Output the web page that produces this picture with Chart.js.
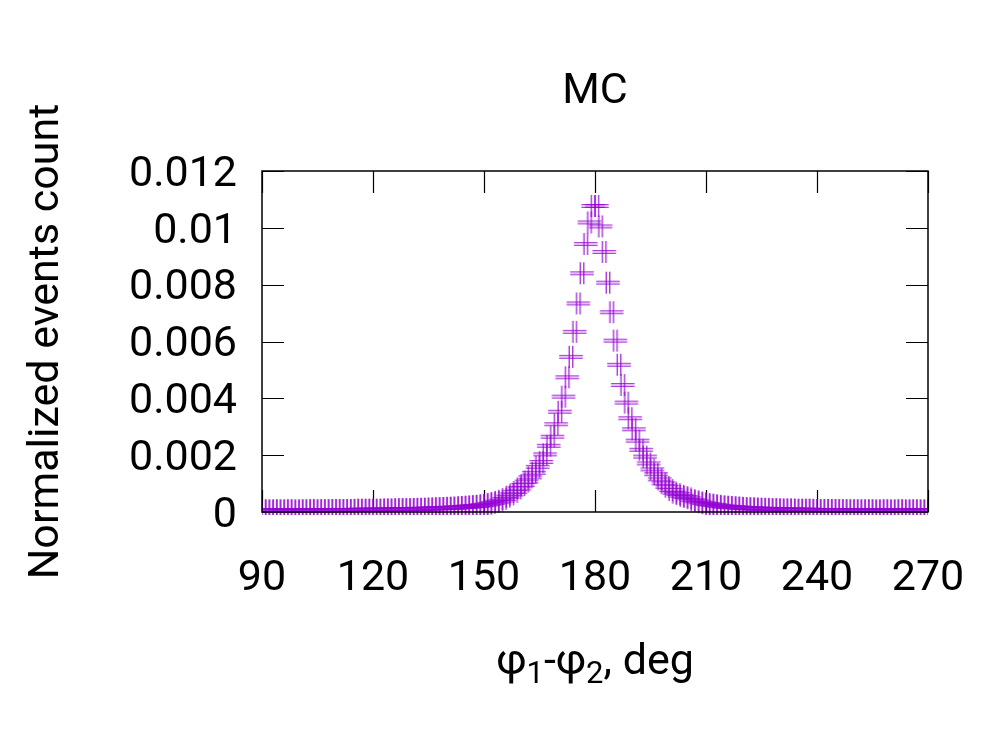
<!DOCTYPE html>
<html>
<head>
<meta charset="utf-8">
<title>MC</title>
<script src="https://cdn.jsdelivr.net/npm/chart.js@4.4.1/dist/chart.umd.min.js"></script>
<style>
  html, body { margin: 0; padding: 0; background: #ffffff; }
  #plot { display: block; }
</style>
</head>
<body>
<canvas id="plot" width="1000" height="750"></canvas>
<script>
// Bin centres, deg (1 deg bins from 90 to 270)
const binCentres = [
  90.5, 91.5, 92.5, 93.5, 94.5, 95.5, 96.5, 97.5, 98.5, 99.5,
  100.5, 101.5, 102.5, 103.5, 104.5, 105.5, 106.5, 107.5, 108.5, 109.5,
  110.5, 111.5, 112.5, 113.5, 114.5, 115.5, 116.5, 117.5, 118.5, 119.5,
  120.5, 121.5, 122.5, 123.5, 124.5, 125.5, 126.5, 127.5, 128.5, 129.5,
  130.5, 131.5, 132.5, 133.5, 134.5, 135.5, 136.5, 137.5, 138.5, 139.5,
  140.5, 141.5, 142.5, 143.5, 144.5, 145.5, 146.5, 147.5, 148.5, 149.5,
  150.5, 151.5, 152.5, 153.5, 154.5, 155.5, 156.5, 157.5, 158.5, 159.5,
  160.5, 161.5, 162.5, 163.5, 164.5, 165.5, 166.5, 167.5, 168.5, 169.5,
  170.5, 171.5, 172.5, 173.5, 174.5, 175.5, 176.5, 177.5, 178.5, 179.5,
  180.5, 181.5, 182.5, 183.5, 184.5, 185.5, 186.5, 187.5, 188.5, 189.5,
  190.5, 191.5, 192.5, 193.5, 194.5, 195.5, 196.5, 197.5, 198.5, 199.5,
  200.5, 201.5, 202.5, 203.5, 204.5, 205.5, 206.5, 207.5, 208.5, 209.5,
  210.5, 211.5, 212.5, 213.5, 214.5, 215.5, 216.5, 217.5, 218.5, 219.5,
  220.5, 221.5, 222.5, 223.5, 224.5, 225.5, 226.5, 227.5, 228.5, 229.5,
  230.5, 231.5, 232.5, 233.5, 234.5, 235.5, 236.5, 237.5, 238.5, 239.5,
  240.5, 241.5, 242.5, 243.5, 244.5, 245.5, 246.5, 247.5, 248.5, 249.5,
  250.5, 251.5, 252.5, 253.5, 254.5, 255.5, 256.5, 257.5, 258.5, 259.5,
  260.5, 261.5, 262.5, 263.5, 264.5, 265.5, 266.5, 267.5, 268.5, 269.5
];

// MC normalized counts, one per bin
const mcCounts = [
  0.00006, 0.00006, 0.00005, 0.00006, 0.00006, 0.00005, 0.00006, 0.00006, 0.00006, 0.00005,
  0.00006, 0.00006, 0.00006, 0.00007, 0.00006, 0.00006, 0.00007, 0.00006, 0.00007, 0.00007,
  0.00007, 0.00007, 0.00007, 0.00007, 0.00007, 0.00008, 0.00008, 0.00008, 0.00008, 0.00008,
  0.00008, 0.00008, 0.00009, 0.00009, 0.00009, 0.00009, 0.00010, 0.00010, 0.00010, 0.00010,
  0.00010, 0.00011, 0.00011, 0.00011, 0.00012, 0.00012, 0.00013, 0.00013, 0.00014, 0.00014,
  0.00015, 0.00015, 0.00016, 0.00017, 0.00018, 0.00019, 0.00020, 0.00021, 0.00022, 0.00024,
  0.00026, 0.00029, 0.00032, 0.00036, 0.00040, 0.00046, 0.00054, 0.00062, 0.00071, 0.00083,
  0.00095, 0.00107, 0.00122, 0.00138, 0.00159, 0.00176, 0.00203, 0.00233, 0.00265, 0.00309,
  0.00353, 0.00406, 0.00474, 0.00546, 0.00634, 0.00734, 0.00840, 0.00943, 0.01019, 0.01077,
  0.01077, 0.01005, 0.00915, 0.00807, 0.00703, 0.00603, 0.00518, 0.00447, 0.00385, 0.00330,
  0.00291, 0.00251, 0.00219, 0.00195, 0.00171, 0.00150, 0.00133, 0.00115, 0.00101, 0.00089,
  0.00077, 0.00068, 0.00063, 0.00057, 0.00053, 0.00048, 0.00042, 0.00038, 0.00034, 0.00031,
  0.00028, 0.00026, 0.00024, 0.00022, 0.00020, 0.00019, 0.00018, 0.00017, 0.00016, 0.00015,
  0.00014, 0.00013, 0.00013, 0.00012, 0.00012, 0.00011, 0.00011, 0.00010, 0.00010, 0.00010,
  0.00009, 0.00009, 0.00009, 0.00009, 0.00008, 0.00008, 0.00008, 0.00008, 0.00008, 0.00007,
  0.00007, 0.00007, 0.00007, 0.00007, 0.00007, 0.00007, 0.00006, 0.00007, 0.00006, 0.00006,
  0.00006, 0.00006, 0.00006, 0.00006, 0.00006, 0.00006, 0.00005, 0.00006, 0.00006, 0.00006,
  0.00005, 0.00006, 0.00006, 0.00006, 0.00005, 0.00006, 0.00006, 0.00006, 0.00005, 0.00006
];

// Axis ticks
const xTicks = [90, 120, 150, 180, 210, 240, 270];
const yTicks = [0, 0.002, 0.004, 0.006, 0.008, 0.01, 0.012];

// Texts
const titleText = 'MC';
const yTitleText = 'Normalized events count';

const FONT = 'Roboto, "DejaVu Sans", sans-serif';
const FONT_SIZE = 43;
const PURPLE = '#9400d3';

// gnuplot style "+" marker, drawn doubled
function makeCross(color) {
  const c = document.createElement('canvas');
  c.width = 28;
  c.height = 26;
  const g = c.getContext('2d');
  g.strokeStyle = color;
  g.lineWidth = 1.1;
  g.beginPath();
  g.moveTo(12.2, 2); g.lineTo(12.2, 24);
  g.moveTo(15.8, 2); g.lineTo(15.8, 24);
  g.moveTo(2.2, 11.8); g.lineTo(25.8, 11.8);
  g.moveTo(2.2, 14.2); g.lineTo(25.8, 14.2);
  g.stroke();
  return c;
}

// frame, inward ticks, titles (gnuplot look)
const gnuplotFrame = {
  id: 'gnuplotFrame',
  beforeDatasetsDraw(chart) {
    const { ctx, chartArea: a, scales } = chart;
    ctx.save();
    ctx.strokeStyle = '#000';
    ctx.lineWidth = 1.2;
    ctx.beginPath();
    xTicks.forEach(v => {
      const px = Math.round(scales.x.getPixelForValue(v)) + 0.5;
      ctx.moveTo(px, a.bottom); ctx.lineTo(px, a.bottom - 22);
      ctx.moveTo(px, a.top); ctx.lineTo(px, a.top + 22);
    });
    yTicks.forEach(v => {
      const py = Math.round(scales.y.getPixelForValue(v)) + 0.5;
      ctx.moveTo(a.left, py); ctx.lineTo(a.left + 22, py);
      ctx.moveTo(a.right, py); ctx.lineTo(a.right - 22, py);
    });
    ctx.stroke();
    ctx.restore();
  },
  afterDraw(chart) {
    const { ctx, chartArea: a } = chart;
    ctx.save();
    ctx.strokeStyle = '#000';
    ctx.lineWidth = 1.5;
    ctx.strokeRect(a.left, a.top, a.right - a.left, a.bottom - a.top);

    const cx = (a.left + a.right) / 2;
    ctx.fillStyle = '#000';

    // title
    ctx.font = FONT_SIZE + 'px ' + FONT;
    ctx.textAlign = 'center';
    ctx.textBaseline = 'middle';
    ctx.fillText(titleText, cx, 92);

    // y title
    ctx.save();
    ctx.translate(47, (a.top + a.bottom) / 2);
    ctx.rotate(-Math.PI / 2);
    ctx.fillText(yTitleText, 0, 0);
    ctx.restore();

    // x title with subscripts: φ1-φ2, deg
    const parts = [
      { t: 'φ', sub: false }, { t: '1', sub: true },
      { t: '-φ', sub: false }, { t: '2', sub: true },
      { t: ', deg', sub: false }
    ];
    const big = FONT_SIZE + 'px ' + FONT, small = '31px ' + FONT;
    let w = 0;
    parts.forEach(p => { ctx.font = p.sub ? small : big; w += ctx.measureText(p.t).width; });
    let x = cx - w / 2;
    const base = 674;
    ctx.textAlign = 'left';
    ctx.textBaseline = 'alphabetic';
    parts.forEach(p => {
      ctx.font = p.sub ? small : big;
      ctx.fillText(p.t, x, p.sub ? base + 9 : base);
      x += ctx.measureText(p.t).width;
    });
    ctx.restore();
  }
};

const points = binCentres.map((x, i) => ({ x, y: mcCounts[i] }));

new Chart(document.getElementById('plot'), {
  type: 'scatter',
  data: {
    datasets: [{
      label: 'MC',
      data: points,
      pointStyle: makeCross(PURPLE),
      pointRadius: 11,
      borderColor: PURPLE,
      backgroundColor: PURPLE,
      showLine: false,
      clip: { left: 0, right: 0, top: 0, bottom: 3 }
    }]
  },
  options: {
    responsive: false,
    animation: false,
    devicePixelRatio: 1,
    layout: { padding: { left: 0, right: 72, top: 171, bottom: 0 } },
    plugins: {
      legend: { display: false },
      tooltip: { enabled: false },
      title: { display: false }
    },
    scales: {
      x: {
        type: 'linear',
        min: 90,
        max: 270,
        afterFit: s => { s.height = 238; s.paddingLeft = 0; s.paddingRight = 0; },
        afterBuildTicks: s => { s.ticks = xTicks.map(v => ({ value: v })); },
        grid: { display: false, drawTicks: false },
        border: { display: false },
        ticks: {
          color: '#000',
          padding: 41,
          maxRotation: 0,
          font: { family: FONT, size: FONT_SIZE }
        }
      },
      y: {
        min: 0,
        max: 0.012,
        afterFit: s => { s.width = 262; s.paddingTop = 0; s.paddingBottom = 0; },
        afterBuildTicks: s => { s.ticks = yTicks.map(v => ({ value: v })); },
        grid: { display: false, drawTicks: false },
        border: { display: false },
        ticks: {
          color: '#000',
          padding: 25,
          labelOffset: 4,
          font: { family: FONT, size: FONT_SIZE },
          callback: v => String(Math.round(v * 1000) / 1000)
        }
      }
    }
  },
  plugins: [gnuplotFrame]
});
</script>
</body>
</html>
